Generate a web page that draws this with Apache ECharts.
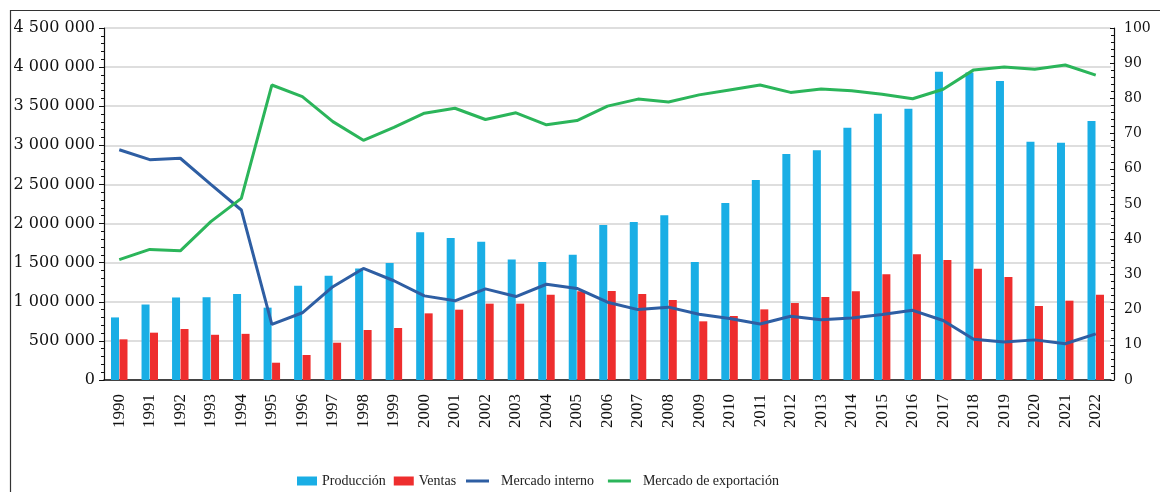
<!DOCTYPE html>
<html>
<head>
<meta charset="utf-8">
<script src="https://cdn.jsdelivr.net/npm/echarts@6/dist/echarts.min.js"></script>
<style>
html,body{margin:0;padding:0;background:#fff;}
#chart{width:1160px;height:492px;}
</style>
</head>
<body>
<div id="chart"></div>
<script>
const years = ['1990','1991','1992','1993','1994','1995','1996','1997','1998','1999','2000','2001','2002','2003','2004','2005','2006','2007','2008','2009','2010','2011','2012','2013','2014','2015','2016','2017','2018','2019','2020','2021','2022'];
const produccion = [800000,965000,1055000,1058000,1100000,925000,1206000,1334000,1425000,1495000,1888000,1815000,1768000,1540000,1508000,1602000,1982000,2020000,2105000,1508000,2263000,2557000,2889000,2936000,3226000,3405000,3469000,3942000,3930000,3822000,3047000,3034000,3311000];
const ventas = [520000,605000,652000,578000,590000,221000,320000,477000,639000,665000,852000,899000,976000,976000,1091000,1134000,1138000,1099000,1023000,750000,818000,903000,984000,1061000,1134000,1351000,1607000,1534000,1423000,1317000,946000,1014000,1091000];
const mercadoInterno = [65.4,62.6,63.0,55.6,48.3,15.8,19.1,26.5,31.7,28.2,23.9,22.5,25.9,23.7,27.2,26.0,22.1,20.0,20.7,18.7,17.5,15.9,18.1,17.1,17.6,18.6,19.8,16.9,11.6,10.8,11.4,10.3,13.1];
const mercadoExportacion = [34.2,37.1,36.7,45.0,51.6,83.8,80.5,73.4,68.1,71.8,75.8,77.2,74.0,75.9,72.5,73.7,77.8,79.8,79.0,81.0,82.4,83.8,81.7,82.7,82.2,81.2,79.9,82.6,88.1,88.9,88.3,89.5,86.6];

const chart = echarts.init(document.getElementById('chart'), null, {renderer:'canvas'});
const axisFont = 'DejaVu Serif';
const legendFont = 'Liberation Serif';
const fmt = v => String(v).replace(/\B(?=(\d{3})+(?!\d))/g, ' ');

chart.setOption({
  animation: false,
  backgroundColor: '#ffffff',
  graphic: [{
    type: 'rect',
    shape: {x: 10.5, y: 10.5, width: 1300, height: 700},
    style: {fill: 'none', stroke: '#333', lineWidth: 1.2},
    silent: true
  }],
  grid: {left: 104, right: 49, top: 28, bottom: 112},
  legend: [{
    data: ['Producción', 'Ventas'],
    left: 292, top: 468,
    itemWidth: 20, itemHeight: 9, itemGap: 8,
    icon: 'rect',
    textStyle: {fontFamily: legendFont, fontSize: 14, color: '#222', lineHeight: 16}
  }, {
    data: ['Mercado interno', 'Mercado de exportación'],
    left: 461, top: 468,
    itemWidth: 23, itemHeight: 3, itemGap: 14,
    icon: 'rect',
    textStyle: {fontFamily: legendFont, fontSize: 14, color: '#222', lineHeight: 16, padding: [0, 0, 0, 7]}
  }],
  xAxis: {
    type: 'category',
    data: years,
    boundaryGap: true,
    axisLine: {lineStyle: {color: '#111', width: 1.5}},
    axisTick: {alignWithLabel: true, length: 5, lineStyle: {color: '#111'}},
    axisLabel: {rotate: 90, margin: 14, fontFamily: 'Liberation Serif', fontSize: 17, color: '#111', interval: 0}
  },
  yAxis: [{
    type: 'value',
    min: 0, max: 4500000, interval: 500000,
    axisLine: {show: true, lineStyle: {color: '#111', width: 1.2}},
    axisTick: {show: true, length: 5, lineStyle: {color: '#111'}},
    minorTick: {show: true, splitNumber: 5, length: 3, lineStyle: {color: '#111'}},
    splitLine: {show: true, lineStyle: {color: '#d3d3d3', width: 1.5}},
    axisLabel: {margin: 9, fontFamily: axisFont, fontSize: 16, color: '#111', formatter: fmt}
  }, {
    type: 'value',
    min: 0, max: 100, interval: 10,
    offset: 3,
    axisLine: {show: true, lineStyle: {color: '#111', width: 1.2}},
    axisTick: {show: true, inside: true, length: 4, lineStyle: {color: '#111'}},
    minorTick: {show: true, splitNumber: 5, length: 3, lineStyle: {color: '#111'}},
    splitLine: {show: false},
    axisLabel: {margin: 10, fontFamily: axisFont, fontSize: 14, color: '#111'}
  }],
  series: [{
    name: 'Producción', type: 'bar', data: produccion,
    barWidth: 8, barGap: '6%',
    itemStyle: {color: '#1aaee5'}
  }, {
    name: 'Ventas', type: 'bar', data: ventas,
    barWidth: 8, barGap: '6%',
    itemStyle: {color: '#ee2e2e'}
  }, {
    name: 'Mercado interno', type: 'line', yAxisIndex: 1, data: mercadoInterno,
    symbol: 'none', z: 5,
    lineStyle: {color: '#2e5ea3', width: 3},
    itemStyle: {color: '#2e5ea3'}
  }, {
    name: 'Mercado de exportación', type: 'line', yAxisIndex: 1, data: mercadoExportacion,
    symbol: 'none', z: 5,
    lineStyle: {color: '#2bb55a', width: 3},
    itemStyle: {color: '#2bb55a'}
  }]
});
</script>
</body>
</html>
